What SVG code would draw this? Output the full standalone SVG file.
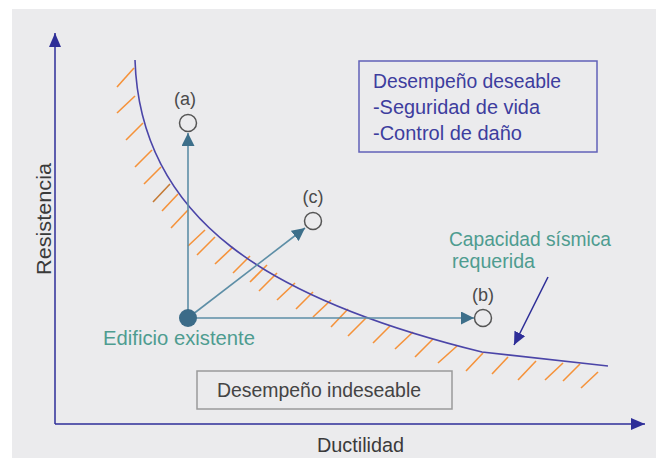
<svg xmlns="http://www.w3.org/2000/svg" width="656" height="458" viewBox="0 0 656 458">
<style>
.t{font-family:"Liberation Sans",Arial,sans-serif;font-size:20.5px}
.lbl{font-family:"Liberation Sans",Arial,sans-serif;font-size:18px;fill:#4a4a4a;text-anchor:middle}
.teal{fill:#4e9c90}
.blue{fill:#3d3d9e}
.axis{stroke:#2e2e98;stroke-width:1.5;fill:none}
.conn{stroke:#5d8ea6;stroke-width:1.6;fill:none}
.hatch line{stroke:#f5923a;stroke-width:1.6}
.ring{fill:none;stroke:#555;stroke-width:1.5}
</style>
<defs>
<marker id="ahAxis" markerUnits="userSpaceOnUse" markerWidth="14" markerHeight="12" refX="14" refY="6" orient="auto"><path d="M0,0 L14,6 L0,12 z" fill="#2e2e98"/></marker>
<marker id="ahTeal" markerUnits="userSpaceOnUse" markerWidth="13" markerHeight="13" refX="13" refY="6.5" orient="auto"><path d="M0,0 L13,6.5 L0,13 z" fill="#3d6f8a"/></marker>
<marker id="ahBlue" markerUnits="userSpaceOnUse" markerWidth="13" markerHeight="12" refX="13" refY="6" orient="auto"><path d="M0,0 L13,6 L0,12 z" fill="#2e2e98"/></marker>
</defs>
<rect x="12" y="9" width="644" height="449" fill="#ebebed"/>

<g id="axes">
<line class="axis" x1="55" y1="424" x2="55" y2="33" marker-end="url(#ahAxis)"/>
<line class="axis" x1="55" y1="424" x2="645" y2="424" marker-end="url(#ahAxis)"/>
<text class="t" x="0" y="0" fill="#3a3a3a" textLength="112" lengthAdjust="spacingAndGlyphs" transform="translate(51,275) rotate(-90)">Resistencia</text>
<text class="t" x="317" y="452" fill="#3a3a3a" textLength="87" lengthAdjust="spacingAndGlyphs">Ductilidad</text>
</g>

<g id="hatch" class="hatch">
<line x1="134" y1="68" x2="117" y2="87"/>
<line x1="135" y1="96" x2="117" y2="113"/>
<line x1="143" y1="123" x2="126" y2="140"/>
<line x1="152" y1="150" x2="135" y2="167"/>
<line x1="161" y1="167" x2="144" y2="184"/>
<line x1="170" y1="184" x2="153" y2="202" style="stroke:#c47a35"/>
<line x1="178" y1="194" x2="162" y2="211"/>
<line x1="188" y1="210" x2="171" y2="228"/>
<line x1="205" y1="230" x2="188" y2="246"/>
<line x1="215" y1="237" x2="197" y2="255"/>
<line x1="233" y1="247" x2="215" y2="264"/>
<line x1="250" y1="256" x2="233" y2="273"/>
<line x1="267" y1="265" x2="250" y2="282"/>
<line x1="277" y1="273" x2="259" y2="291"/>
<line x1="295" y1="283" x2="277" y2="300"/>
<line x1="313" y1="292" x2="296" y2="309"/>
<line x1="331" y1="300" x2="313" y2="317"/>
<line x1="348" y1="309" x2="331" y2="327"/>
<line x1="366" y1="318" x2="348" y2="336"/>
<line x1="390" y1="326" x2="373" y2="343"/>
<line x1="413" y1="332" x2="395" y2="349"/>
<line x1="433" y1="339" x2="415" y2="357"/>
<line x1="457" y1="346" x2="438" y2="363"/>
<line x1="483" y1="353" x2="466" y2="371"/>
<line x1="508" y1="357" x2="492" y2="374"/>
<line x1="536" y1="361" x2="518" y2="380"/>
<line x1="563" y1="363" x2="545" y2="380"/>
<line x1="580" y1="364" x2="563" y2="381"/>
<line x1="598" y1="372" x2="581" y2="388"/>
</g>

<g id="curve">
<path d="M135,60 C140,220 270,300 482,352 L608,366" fill="none" stroke="#4b45a8" stroke-width="1.6"/>
</g>

<g id="connectors">
<line class="conn" x1="188" y1="318" x2="188" y2="133" marker-end="url(#ahTeal)"/>
<line class="conn" x1="188" y1="318" x2="474" y2="318" marker-end="url(#ahTeal)"/>
<line class="conn" x1="188" y1="318" x2="305" y2="228" marker-end="url(#ahTeal)"/>
<line x1="548" y1="277" x2="514" y2="345" stroke="#2e2e98" stroke-width="1.5" marker-end="url(#ahBlue)"/>
</g>

<g id="node-existing">
<circle cx="188" cy="318" r="9" fill="#3b6b88"/>
<text class="t teal" x="103" y="345" textLength="152" lengthAdjust="spacingAndGlyphs">Edificio existente</text>
</g>

<g id="node-a">
<circle class="ring" cx="188" cy="123" r="8.5"/>
<text class="lbl" x="185" y="105">(a)</text>
</g>
<g id="node-b">
<circle class="ring" cx="483" cy="318" r="8.5"/>
<text class="lbl" x="483" y="301">(b)</text>
</g>
<g id="node-c">
<circle class="ring" cx="313" cy="221" r="8.5"/>
<text class="lbl" x="313" y="203">(c)</text>
</g>

<g id="box-deseable">
<rect x="359" y="61" width="238" height="91" fill="none" stroke="#6262b8" stroke-width="1.5"/>
<text class="t blue" x="373" y="88" textLength="188" lengthAdjust="spacingAndGlyphs">Desempeño deseable</text>
<text class="t blue" x="373" y="114" textLength="167" lengthAdjust="spacingAndGlyphs">-Seguridad de vida</text>
<text class="t blue" x="373" y="140" textLength="149" lengthAdjust="spacingAndGlyphs">-Control de daño</text>
</g>

<g id="label-capacidad">
<text class="t teal" x="449" y="246" textLength="162" lengthAdjust="spacingAndGlyphs">Capacidad sísmica</text>
<text class="t teal" x="452" y="268" textLength="83" lengthAdjust="spacingAndGlyphs">requerida</text>
</g>

<g id="box-indeseable">
<rect x="197" y="371" width="255" height="38" fill="none" stroke="#9a9a9a" stroke-width="1.5"/>
<text class="t" x="217" y="397" fill="#444" textLength="204" lengthAdjust="spacingAndGlyphs">Desempeño indeseable</text>
</g>
</svg>
